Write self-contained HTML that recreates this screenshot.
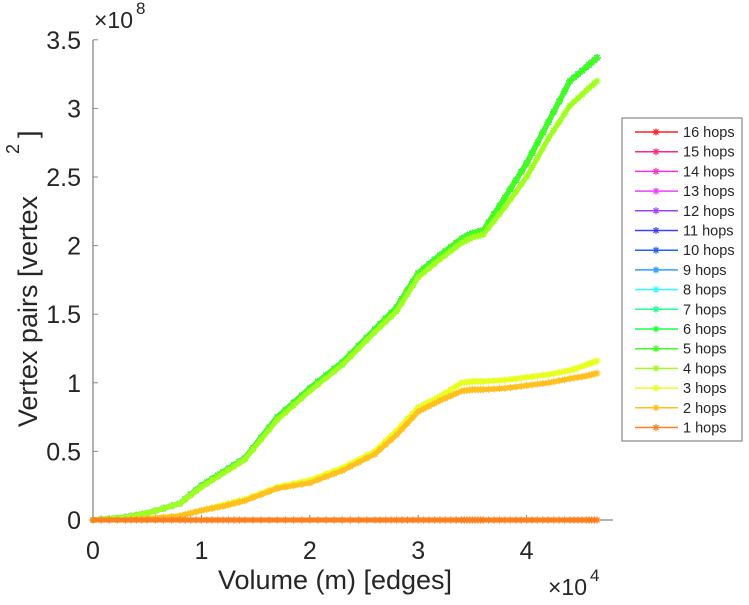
<!DOCTYPE html>
<html><head><meta charset="utf-8"><style>
body{margin:0;background:#fff;}
svg text{font-family:"Liberation Sans",sans-serif;fill:#262626;}
</style></head><body>
<svg id="chart" width="749" height="600" xmlns="http://www.w3.org/2000/svg">
<g id="axes"></g>
<g id="series"></g>
<g id="legend"></g>
</svg>
<script>
const xTicks=[0,1,2,3,4];
const yTicks=[0,0.5,1,1.5,2,2.5,3,3.5];
const yTickLabels=["0","0.5","1","1.5","2","2.5","3","3.5"];
const xVals=[0,0.3,0.5,0.8,1.0,1.2,1.4,1.7,2.0,2.3,2.6,2.8,3.0,3.2,3.4,3.5,3.6,3.8,4.0,4.2,4.4,4.55,4.65];
const upper=[0,0.02,0.05,0.12,0.25,0.35,0.45,0.75,0.96,1.15,1.39,1.55,1.8,1.93,2.05,2.09,2.11,2.35,2.6,2.9,3.2,3.3,3.37];
const hops4=[0,0.02,0.05,0.12,0.24,0.34,0.44,0.73,0.94,1.13,1.37,1.52,1.77,1.9,2.02,2.06,2.08,2.28,2.5,2.78,3.02,3.13,3.2];
const hops3=[0,0,0.01,0.03,0.07,0.11,0.15,0.24,0.29,0.38,0.5,0.65,0.82,0.9,1.0,1.01,1.01,1.02,1.04,1.06,1.09,1.13,1.16];
const hops2=[0,0,0.01,0.03,0.07,0.1,0.14,0.23,0.27,0.36,0.48,0.62,0.79,0.87,0.94,0.95,0.95,0.96,0.98,1.0,1.03,1.05,1.07];
const hops1=[0,0,0,0,0,0,0,0,0,0,0,0,0,0,0,0,0,0,0,0,0,0,0];
const seriesNames=["16 hops","15 hops","14 hops","13 hops","12 hops","11 hops","10 hops","9 hops","8 hops","7 hops","6 hops","5 hops","4 hops","3 hops","2 hops","1 hops"];
const seriesColors=["#ff2020","#ff2a80","#ff30d0","#f040ff","#a040ff","#4040ff","#2060ff","#30a0ff","#30ffff","#20ff90","#20ff40","#40ff20","#a0ff20","#e8ff20","#ffc020","#ff8020"];
const seriesData=[upper,upper,upper,upper,upper,upper,upper,upper,upper,upper,upper,upper,hops4,hops3,hops2,hops1];
const NS="http://www.w3.org/2000/svg";
function X(v){return 93+v*108.4;}
function Y(v){return 520-v*137.2;}
function mk(t,a,p){const e=document.createElementNS(NS,t);for(const k in a)e.setAttribute(k,a[k]);p.appendChild(e);return e;}
const ax=document.getElementById('axes');
let l=mk('line',{x1:93,y1:40,x2:93,y2:520,stroke:'#888','stroke-width':1.3},ax);

l=mk('line',{x1:93,y1:520,x2:613,y2:520,stroke:'#888','stroke-width':1.3},ax);

xTicks.forEach(v=>{mk('line',{x1:X(v),y1:520,x2:X(v),y2:515,stroke:'#888'},ax);
 const t=mk('text',{x:X(v),y:559,'text-anchor':'middle','font-size':25},ax);t.textContent=v;
 });
yTicks.forEach((v,i)=>{mk('line',{x1:93,y1:Y(v),x2:98,y2:Y(v),stroke:'#888'},ax);
 const t=mk('text',{x:81,y:Y(v)+9,'text-anchor':'end','font-size':25},ax);t.textContent=yTickLabels[i];
 });
let t=mk('text',{x:335,y:589,'text-anchor':'middle','font-size':27},ax);t.textContent='Volume (m) [edges]';

t=mk('text',{x:548,y:595,'font-size':23},ax);t.innerHTML='×10<tspan dx="3" dy="-14" font-size="17">4</tspan>';

t=mk('text',{x:94,y:28,'font-size':23},ax);t.innerHTML='×10<tspan dx="3" dy="-14" font-size="17">8</tspan>';

t=mk('text',{x:0,y:0,'text-anchor':'end','font-size':27,transform:'translate(37,196) rotate(-90)'},ax);t.textContent='Vertex pairs [vertex';

t=mk('text',{x:0,y:0,'font-size':18,transform:'translate(19,154) rotate(-90)'},ax);t.textContent='2';
t=mk('text',{x:0,y:0,'font-size':27,transform:'translate(37,138) rotate(-90)'},ax);t.textContent=']';
const sg=document.getElementById('series');
function star(g,x,y,c){mk('path',{d:`M${x-3.5},${y}h7M${x},${y-3.5}v7M${x-2.5},${y-2.5}l5,5M${x-2.5},${y+2.5}l5,-5`,stroke:c,'stroke-width':1.2,fill:'none'},g);}
for(let s=0;s<seriesNames.length;s++){
 const g=mk('g',{},sg);
 
 
 const d=seriesData[s];
 mk('polyline',{points:xVals.map((v,i)=>X(v)+','+Y(d[i])).join(' '),fill:'none',stroke:seriesColors[s],'stroke-width':5,'stroke-linejoin':'round'},g);
 for(let i=0;i<xVals.length-1;i++){for(let k=0;k<4;k++){const f=k/4;star(g,X(xVals[i]+(xVals[i+1]-xVals[i])*f),Y(d[i]+(d[i+1]-d[i])*f),seriesColors[s]);}}
 star(g,X(xVals[xVals.length-1]),Y(d[d.length-1]),seriesColors[s]);
}
const lg=document.getElementById('legend');
let r=mk('rect',{x:622,y:118,width:120,height:323,fill:'#fff',stroke:'#888','stroke-width':1.2},lg);

seriesNames.forEach((n,i)=>{const y=132+i*19.7;
 const g=mk('g',{},lg);
 
 mk('line',{x1:635,y1:y,x2:678,y2:y,stroke:seriesColors[i],'stroke-width':1.5},g);
 star(g,656,y,seriesColors[i]);
 const tt=mk('text',{x:683,y:y+5,'font-size':14.5},g);tt.textContent=n;});
</script>
</body></html>
